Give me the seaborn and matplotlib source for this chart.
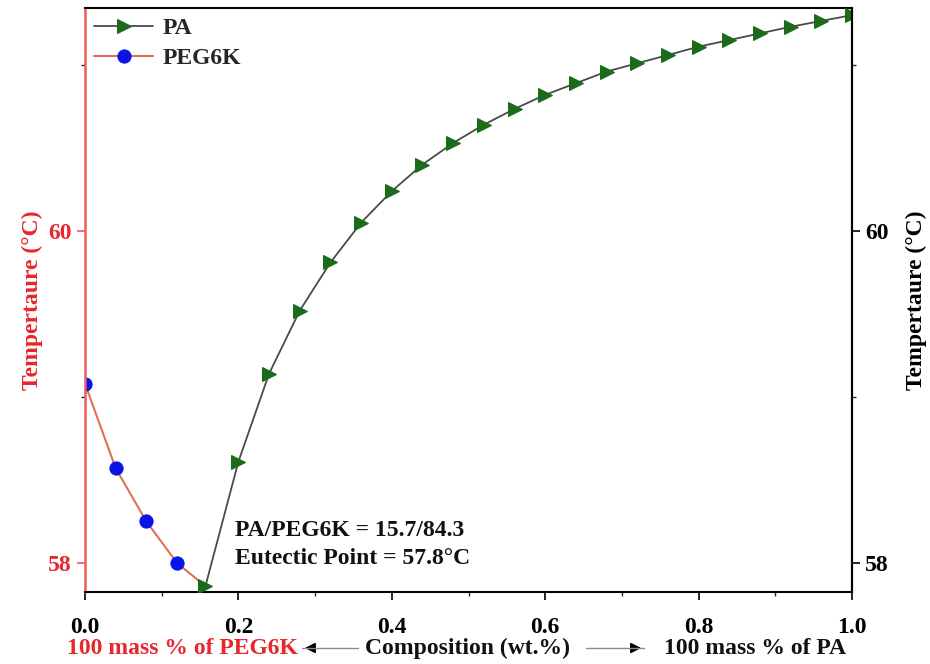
import matplotlib
matplotlib.use("Agg")
import matplotlib.pyplot as plt
import seaborn as sns
import pandas as pd
from matplotlib.ticker import MultipleLocator

# ---- data ----
pa_x = [0.157, 0.20, 0.24, 0.28, 0.32, 0.36, 0.40, 0.44, 0.48, 0.52, 0.56,
        0.60, 0.64, 0.68, 0.72, 0.76, 0.80, 0.84, 0.88, 0.92, 0.96, 1.00]
pa_y = [57.86, 58.61, 59.14, 59.52, 59.81, 60.05, 60.24, 60.40, 60.53, 60.64, 60.735,
        60.82, 60.89, 60.96, 61.01, 61.06, 61.11, 61.15, 61.19, 61.23, 61.265, 61.30]
peg_x = [0.0, 0.04, 0.08, 0.12, 0.157]
peg_y = [59.08, 58.57, 58.25, 58.00, 57.86]
x_ticks = [0.0, 0.2, 0.4, 0.6, 0.8, 1.0]
y_ticks = [58, 60]
annot_lines = ["PA/PEG6K = 15.7/84.3", "Eutectic Point = 57.8\u00b0C"]

sns.set_style("ticks")
plt.rcParams['font.family'] = ['Liberation Serif', 'DejaVu Serif']
plt.rcParams['font.weight'] = 'bold'
plt.rcParams['mathtext.default'] = 'regular'

FS = 17
RED = '#e8262b'
SPINE_RED = '#ee5a5f'
LINE_RED = '#e0705a'
GREEN = '#1b6b1b'
GRAY = '#4a4a4a'

fig = plt.figure(figsize=(9.3, 6.64), dpi=100)
ax = fig.add_axes([85/930, 1-592/664, (852-85)/930, (592-8)/664])

pa_df = pd.DataFrame({'x': pa_x, 'y': pa_y})
peg_df = pd.DataFrame({'x': peg_x, 'y': peg_y})

sns.lineplot(data=pa_df, x='x', y='y', ax=ax, color=GRAY, lw=1.3,
             marker='>', markersize=9.5, markerfacecolor=GREEN, markeredgecolor=GREEN,
             label='PA', sort=False, zorder=3)
sns.lineplot(data=peg_df, x='x', y='y', ax=ax, color=LINE_RED, lw=1.5,
             marker='o', markersize=9.5, markerfacecolor='#0a14e6', markeredgecolor='#0a14e6',
             markevery=[0, 1, 2, 3], label='PEG6K', sort=False, zorder=2)

ax.set_xlim(0, 1.0)
ax.set_ylim(57.825, 61.343)
ax.set_xticks(x_ticks)
ax.set_xticklabels([f"{v:.1f}" for v in x_ticks])
ax.xaxis.set_minor_locator(MultipleLocator(0.1))
ax.set_yticks(y_ticks)
ax.set_yticklabels([str(v) for v in y_ticks])
ax.yaxis.set_minor_locator(MultipleLocator(1))
ax.tick_params(axis='both', which='major', direction='out', length=6, width=1.2,
               labelsize=FS)
ax.tick_params(axis='both', which='minor', direction='out', length=3, width=1.0)
ax.tick_params(axis='y', colors=SPINE_RED, labelcolor=RED)
ax.tick_params(axis='x', colors='black', labelcolor='black', pad=12)
for lab in ax.get_xticklabels() + ax.get_yticklabels():
    lab.set_fontweight('bold')
ax.set_xlabel('')
ax.set_ylabel('Tempertaure (\u00b0C)', color=RED, fontsize=FS, fontweight='bold', labelpad=4)

for s in ['top', 'right', 'bottom']:
    ax.spines[s].set_color('black')
    ax.spines[s].set_linewidth(1.5)
ax.spines['left'].set_color(SPINE_RED)
ax.spines['left'].set_linewidth(1.8)

ax2 = ax.twinx()
ax2.set_ylim(ax.get_ylim())
ax2.set_yticks(y_ticks)
ax2.set_yticklabels([str(v) for v in y_ticks])
ax2.yaxis.set_minor_locator(MultipleLocator(1))
ax2.tick_params(axis='y', which='major', direction='out', length=6, width=1.2,
                labelsize=FS, colors='black')
ax2.tick_params(axis='y', which='minor', direction='out', length=3, width=1.0)
for lab in ax2.get_yticklabels():
    lab.set_fontweight('bold')
ax2.set_ylabel('Tempertaure (\u00b0C)', color='black', fontsize=FS, fontweight='bold', labelpad=12)
for s in ax2.spines.values():
    s.set_visible(False)
ax2.spines['right'].set_visible(True)
ax2.spines['right'].set_color('black')
ax2.spines['right'].set_linewidth(1.5)

leg = ax.legend(loc='upper left', frameon=False, fontsize=FS, handlelength=2.5,
                borderaxespad=0.0, handletextpad=0.4, labelspacing=0.35,
                bbox_to_anchor=(0.0, 1.0))
for t in leg.get_texts():
    t.set_fontweight('bold')

# annotation
ax.text(235/930, 1-531/664, annot_lines[0], transform=fig.transFigure, fontsize=FS,
        fontweight='bold', ha='left', va='center', color='#111111')
ax.text(235/930, 1-558/664, annot_lines[1], transform=fig.transFigure, fontsize=FS,
        fontweight='bold', ha='left', va='center', color='#111111')

# composite x label
ylab = 1 - 648/664
fig.text(182/930, ylab, '100 mass % of PEG6K', color=RED, fontsize=FS,
         fontweight='bold', ha='center', va='center')
fig.text(467/930, ylab, 'Composition (wt.%)', color='#111111', fontsize=FS,
         fontweight='bold', ha='center', va='center')
fig.text(755/930, ylab, '100 mass % of PA', color='#111111', fontsize=FS,
         fontweight='bold', ha='center', va='center')

def arrow(x0, x1):
    fig.add_artist(plt.Line2D([x0/930, x1/930], [ylab, ylab], color='0.55', lw=1.0,
                              transform=fig.transFigure))
    ax.annotate('', xy=(x1/930, ylab), xytext=((x1 + (12 if x0 > x1 else -12))/930, ylab),
                xycoords='figure fraction', textcoords='figure fraction',
                arrowprops=dict(arrowstyle='-|>', color='black', lw=1.0, mutation_scale=16))

arrow(358, 302)
arrow(586, 644)

fig.savefig('out.png', dpi=100)
